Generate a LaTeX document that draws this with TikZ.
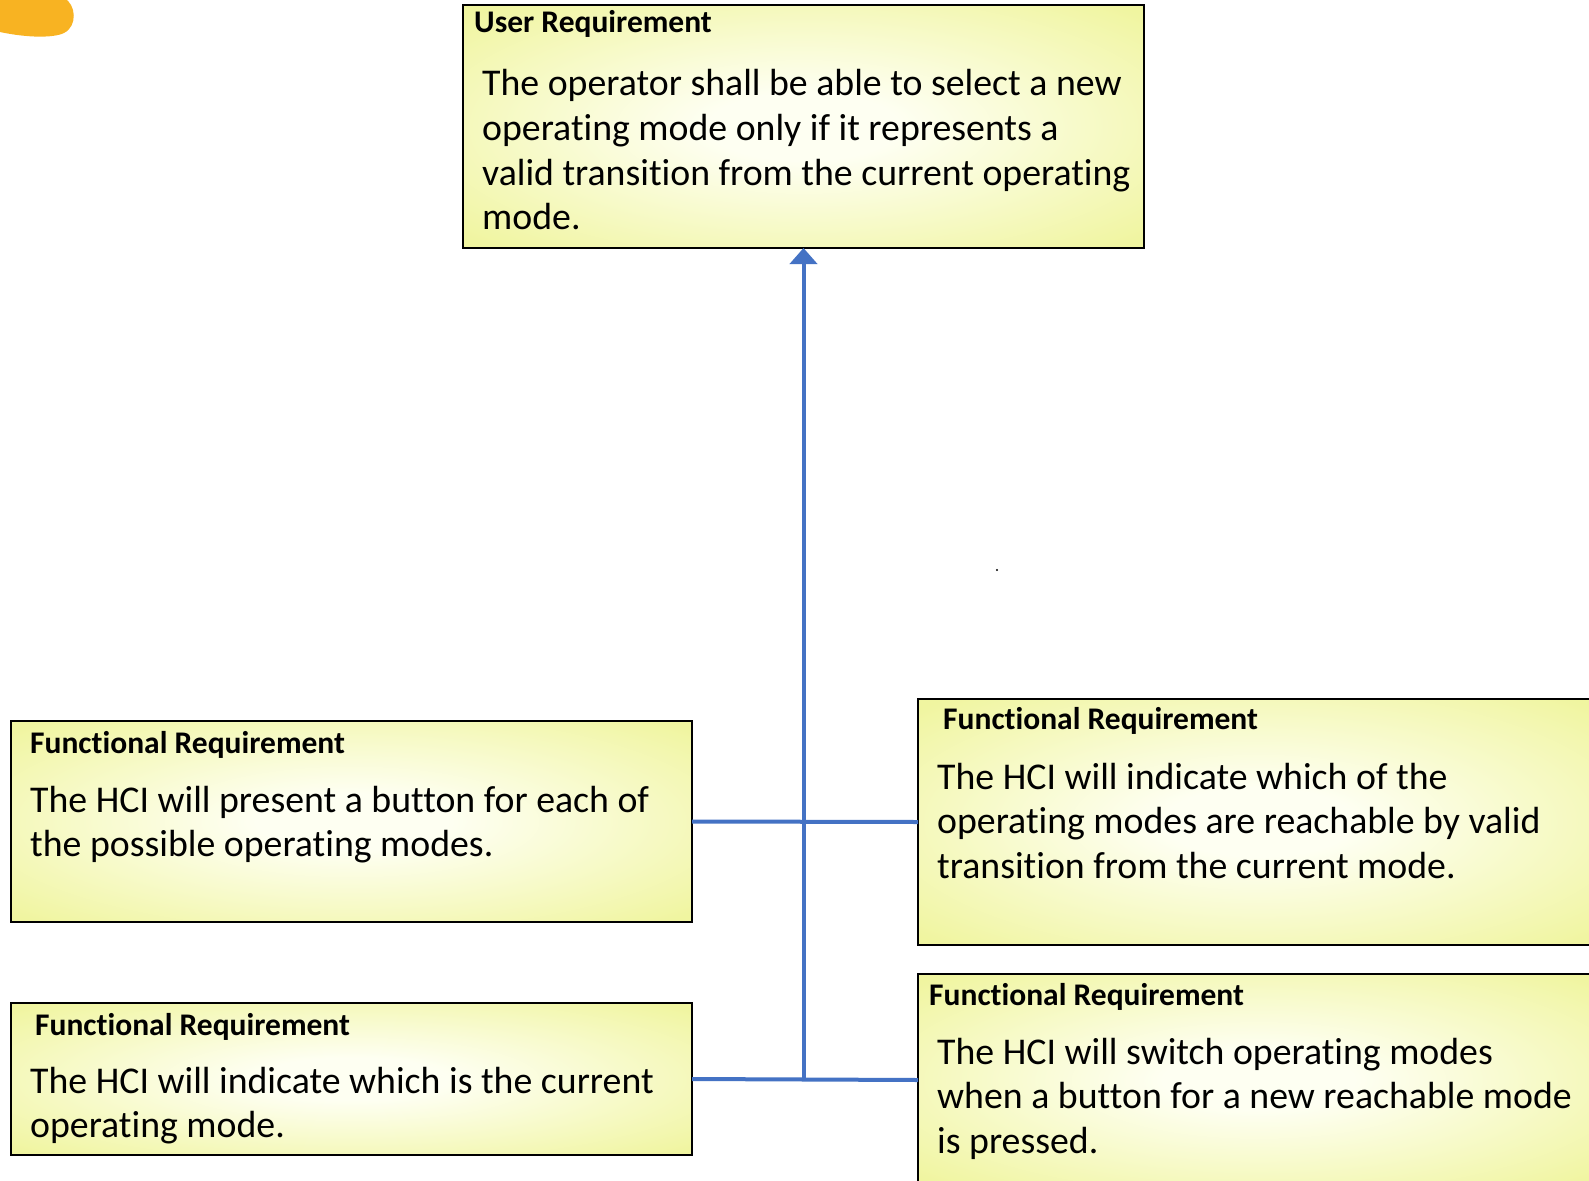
\documentclass[tikz,border=0pt]{standalone}
\usepackage{fontspec}
\setmainfont{Carlito}[Ligatures=CommonOff]
\usetikzlibrary{arrows.meta}

\definecolor{reqyellow}{HTML}{F0F5A0}
\definecolor{reqglow}{HTML}{FEFFF2}
\definecolor{linkblue}{HTML}{4472C4}
\definecolor{tabgold}{HTML}{F8B322}

% soft glow in the middle of each requirement box
\pgfdeclareradialshading{reqshade}{\pgfpoint{0bp}{0bp}}{%
  color(0bp)=(reqglow); color(7bp)=(reqglow);
  color(34bp)=(reqyellow); color(75bp)=(reqyellow)}

% lines of a box text, anchored at the baseline of the first line
\newcommand{\reqlines}[1]{\begin{tabular}[t]{@{}l@{}}#1\end{tabular}}

\tikzset{
  reqbox/.style={rectangle, draw=black, line width=2pt, shade, shading=reqshade,
    inner sep=0pt, outer sep=0pt, anchor=north west},
  reqhead/.style={anchor=base west, inner sep=0pt,
    font=\fontsize{31.5}{36}\selectfont\bfseries},
  reqbody/.style={anchor=base west, inner sep=0pt,
    font=\fontsize{37.8}{44.6}\selectfont},
  link/.style={draw=linkblue, line width=4pt},
}

\begin{document}
\begin{tikzpicture}[x=1pt, y=-1pt]
  \useasboundingbox (0,0) rectangle (1589,1180);
  \clip (0,0) rectangle (1589,1180);
  \fill[white] (0,0) rectangle (1589,1180);

  % corner tab
  \fill[tabgold] (0,-2) -- (64,-2) .. controls (76,4) and (78,26) .. (64,33)
    .. controls (54,38) and (28,38) .. (0,32) -- cycle;

  % boxes
  \node[reqbox, minimum width=681pt, minimum height=243pt] (top) at (463,5) {};
  \node[reqbox, minimum width=681pt, minimum height=201pt] (fr1) at (11,721) {};
  \node[reqbox, minimum width=681pt, minimum height=246pt] (fr2) at (918,699) {};
  \node[reqbox, minimum width=681pt, minimum height=152pt] (fr3) at (11,1003) {};
  \node[reqbox, minimum width=681pt, minimum height=212pt] (fr4) at (918,974) {};

  % headings
  \node[reqhead] (toph) at (474,33) {User Requirement};
  \node[reqhead] (fr1h) at (30,753) {Functional Requirement};
  \node[reqhead] (fr2h) at (943,729) {Functional Requirement};
  \node[reqhead] (fr3h) at (35,1035) {Functional Requirement};
  \node[reqhead] (fr4h) at (929,1005) {Functional Requirement};

  % requirement texts
  \node[reqbody] (topt) at (482,96) {\reqlines{The operator shall be able to select a new\\
    operating mode only if it represents a\\
    valid transition from the current operating\\
    mode.}};
  \node[reqbody] (fr1t) at (30,812) {\reqlines{The HCI will present a button for each of\\
    the possible operating modes.}};
  \node[reqbody] (fr2t) at (937,789) {\reqlines{The HCI will indicate which of the\\
    operating modes are reachable by valid\\
    transition from the current mode.}};
  \node[reqbody] (fr3t) at (30,1093) {\reqlines{The HCI will indicate which is the current\\
    operating mode.}};
  \node[reqbody] (fr4t) at (937,1064) {\reqlines{The HCI will switch operating modes\\
    when a button for a new reachable mode\\
    is pressed.}};

  % connectors
  \draw[link] (fr1.east) -- (fr2.west);
  \draw[link] (fr3.east) -- (fr4.west);
  \coordinate (hub) at (top.south |- fr3.east);
  \draw[link, -{Triangle[width=27pt, length=16pt]}] (hub) -- (top.south);

  % stray mark
  \fill[black] (997,570) circle (1.2);
\end{tikzpicture}
\end{document}
